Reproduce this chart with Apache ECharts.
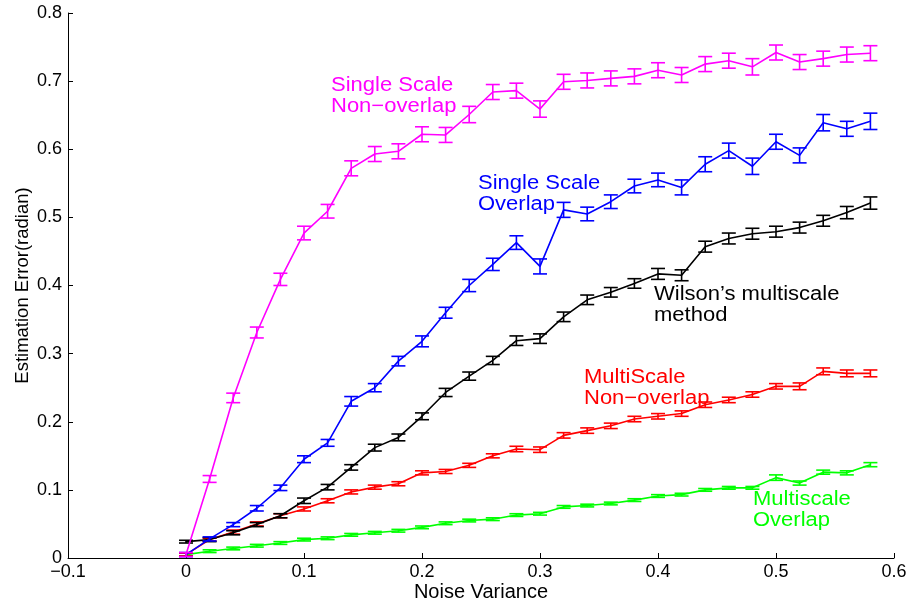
<!DOCTYPE html>
<html>
<head>
<meta charset="utf-8">
<script src="https://cdn.jsdelivr.net/npm/echarts@6/dist/echarts.min.js"></script>
<style>html,body{margin:0;padding:0;background:#fff}#c{width:908px;height:605px}</style>
</head>
<body>
<div id="c"></div>
<script>
var noise = [0,0.02,0.04,0.06,0.08,0.10,0.12,0.14,0.16,0.18,0.20,0.22,0.24,0.26,0.28,0.30,0.32,0.34,0.36,0.38,0.40,0.42,0.44,0.46,0.48,0.50,0.52,0.54,0.56,0.58];

var singleNonOverlap = [0.005,0.116,0.235,0.331,0.409,0.477,0.509,0.572,0.593,0.597,0.622,0.621,0.651,0.684,0.686,0.659,0.699,0.701,0.704,0.707,0.716,0.709,0.725,0.730,0.721,0.742,0.728,0.733,0.739,0.741];
var singleNonOverlapErr = [0.003,0.005,0.007,0.008,0.009,0.010,0.010,0.011,0.011,0.011,0.011,0.011,0.012,0.011,0.011,0.012,0.011,0.011,0.011,0.011,0.011,0.011,0.011,0.011,0.012,0.011,0.011,0.011,0.011,0.011];

var singleOverlap = [0.005,0.028,0.049,0.073,0.103,0.145,0.169,0.230,0.250,0.289,0.318,0.360,0.400,0.431,0.463,0.428,0.511,0.505,0.523,0.546,0.555,0.544,0.578,0.598,0.575,0.611,0.591,0.639,0.630,0.641];
var singleOverlapErr = [0.003,0.003,0.003,0.004,0.004,0.005,0.005,0.007,0.006,0.007,0.008,0.008,0.009,0.009,0.010,0.011,0.011,0.010,0.010,0.010,0.010,0.011,0.011,0.011,0.012,0.011,0.011,0.012,0.011,0.012];

var wilson = [0.024,0.027,0.037,0.049,0.062,0.084,0.104,0.133,0.162,0.177,0.208,0.243,0.267,0.290,0.319,0.322,0.354,0.379,0.390,0.403,0.417,0.415,0.457,0.469,0.476,0.479,0.485,0.495,0.507,0.521];
var wilsonErr = [0.002,0.003,0.003,0.003,0.003,0.004,0.004,0.004,0.005,0.005,0.005,0.006,0.006,0.006,0.007,0.007,0.007,0.007,0.007,0.007,0.008,0.008,0.008,0.008,0.008,0.008,0.008,0.008,0.009,0.009];

var multiNonOverlap = [0.005,0.027,0.038,0.050,0.062,0.072,0.084,0.097,0.104,0.109,0.125,0.127,0.136,0.150,0.160,0.159,0.180,0.187,0.194,0.204,0.208,0.212,0.225,0.232,0.240,0.252,0.252,0.274,0.271,0.271];
var multiNonOverlapErr = [0.002,0.002,0.003,0.003,0.003,0.003,0.003,0.003,0.003,0.003,0.003,0.003,0.003,0.003,0.004,0.004,0.004,0.004,0.004,0.004,0.004,0.004,0.004,0.004,0.004,0.004,0.005,0.005,0.005,0.005];

var multiOverlap = [0.005,0.010,0.014,0.018,0.022,0.027,0.029,0.034,0.037,0.040,0.045,0.051,0.055,0.057,0.063,0.065,0.075,0.077,0.080,0.085,0.091,0.093,0.100,0.103,0.103,0.118,0.110,0.126,0.125,0.137];
var multiOverlapErr = [0.002,0.002,0.002,0.002,0.002,0.002,0.002,0.002,0.002,0.002,0.002,0.002,0.002,0.002,0.002,0.002,0.002,0.002,0.002,0.002,0.002,0.002,0.002,0.002,0.002,0.004,0.003,0.003,0.003,0.003];

var xTicks = [-0.1,0,0.1,0.2,0.3,0.4,0.5,0.6];
var yTicks = [0,0.1,0.2,0.3,0.4,0.5,0.6,0.7,0.8];

var FONT = '"Liberation Sans", Arial, Helvetica, sans-serif';

function fmt(v){
  var r = Math.round(v*10)/10;
  if (r === 0) return '0';
  return (r < 0 ? '\u2212' : '') + Math.abs(r).toFixed(1);
}

function makeSeries(name, vals, errs, color, z){
  var lineData = noise.map(function(x,i){ return [x, vals[i]]; });
  var errData = noise.map(function(x,i){ return [x, vals[i], errs[i]]; });
  return [
    {
      name: name, type: 'line', data: lineData, symbol: 'none', z: z,
      lineStyle: {color: color, width: 1.6}, animation: false, silent: true
    },
    {
      name: name + ' err', type: 'custom', z: z, animation: false, silent: true,
      data: errData,
      renderItem: function(params, api){
        var x = api.value(0), y = api.value(1), e = api.value(2);
        var lo = api.coord([x, y - e]);
        var hi = api.coord([x, y + e]);
        var w = 7;
        var st = {stroke: color, lineWidth: 1.6, fill: null};
        return {
          type: 'group',
          children: [
            {type: 'line', shape: {x1: lo[0], y1: lo[1], x2: hi[0], y2: hi[1]}, style: st},
            {type: 'line', shape: {x1: lo[0]-w, y1: lo[1], x2: lo[0]+w, y2: lo[1]}, style: st},
            {type: 'line', shape: {x1: hi[0]-w, y1: hi[1], x2: hi[0]+w, y2: hi[1]}, style: st}
          ]
        };
      }
    }
  ];
}

var series = [].concat(
  makeSeries('Multiscale Overlap', multiOverlap, multiOverlapErr, '#00ff00', 2),
  makeSeries('MultiScale Non-overlap', multiNonOverlap, multiNonOverlapErr, '#ff0000', 3),
  makeSeries("Wilson's multiscale method", wilson, wilsonErr, '#000000', 4),
  makeSeries('Single Scale Overlap', singleOverlap, singleOverlapErr, '#0000ff', 5),
  makeSeries('Single Scale Non-overlap', singleNonOverlap, singleNonOverlapErr, '#ff00ff', 6)
);

function label(text, left, top, color){
  return {
    type: 'text', x: left, y: top, z: 10, scaleX: 1.1,
    style: {text: text, fill: color, font: '20px ' + FONT, lineHeight: 21}
  };
}

var chart = echarts.init(document.getElementById('c'), null, {renderer: 'canvas'});
chart.setOption({
  backgroundColor: '#ffffff',
  animation: false,
  grid: {left: 68, right: 14, top: 13, bottom: 47, containLabel: false, outerBoundsMode: 'none'},
  xAxis: {
    type: 'value', min: xTicks[0], max: xTicks[xTicks.length-1], interval: 0.1,
    name: 'Noise Variance', nameLocation: 'middle', nameGap: 24, nameMoveOverlap: false,
    nameTextStyle: {fontFamily: FONT, fontSize: 20, color: '#000'},
    axisLine: {show: true, onZero: false, lineStyle: {color: '#000', width: 1}},
    axisTick: {show: true, inside: true, length: 5, lineStyle: {color: '#000'}},
    axisLabel: {fontFamily: FONT, fontSize: 18, color: '#000', margin: 5, formatter: fmt},
    splitLine: {show: false}
  },
  yAxis: {
    type: 'value', min: yTicks[0], max: yTicks[yTicks.length-1], interval: 0.1,
    name: 'Estimation Error(radian)', nameLocation: 'middle', nameGap: 36, nameMoveOverlap: false,
    nameTextStyle: {fontFamily: FONT, fontSize: 18.5, color: '#000'},
    axisLine: {show: true, onZero: false, lineStyle: {color: '#000', width: 1}},
    axisTick: {show: true, inside: true, length: 5, lineStyle: {color: '#000'}},
    axisLabel: {fontFamily: FONT, fontSize: 18, color: '#000', margin: 6, formatter: fmt},
    splitLine: {show: false}
  },
  graphic: [
    label('Single Scale\nNon\u2212overlap', 331, 75, '#ff00ff'),
    label('Single Scale\nOverlap', 478, 173, '#0000ff'),
    label('Wilson\u2019s multiscale\nmethod', 654, 284, '#000000'),
    label('MultiScale\nNon\u2212overlap', 584, 367, '#ff0000'),
    label('Multiscale\nOverlap', 753, 489, '#00ff00')
  ],
  series: series
});
</script>
</body>
</html>
